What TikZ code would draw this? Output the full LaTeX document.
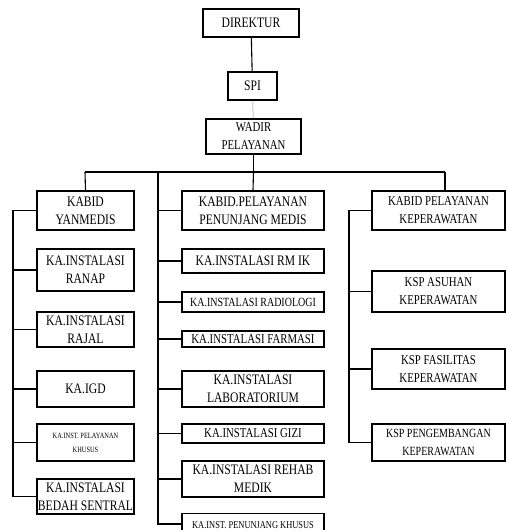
\documentclass[tikz,border=0pt]{standalone}
\usepackage{fontspec}
\setmainfont{Liberation Serif}[FakeStretch=0.8]
\usetikzlibrary{calc}
\begin{document}
\begin{tikzpicture}[x=1pt,y=-1pt,
  box/.style={draw, line width=1.1pt, inner sep=0pt, align=center, fill=white,
    font=\fontsize{14.5}{18}\selectfont},
  fs/.style={font=\fontsize{#1}{18}\selectfont},
  ln/.style={line width=1.1pt},
]
\useasboundingbox (0,0) rectangle (506,530);
\clip (0,0) rectangle (506,530);
% top
\node[box, minimum width=96, minimum height=28] (dir) at (251,23) {DIREKTUR};
\node[box, minimum width=49, minimum height=28] (spi) at (252.5,86) {SPI};
\node[box, fs=13.5, minimum width=95, minimum height=35] (wadir) at (253.5,136.5) {WADIR\\PELAYANAN};
% heads
\node[box, minimum width=97, minimum height=39] (kyan) at (85.5,210.5) {KABID\\YANMEDIS};
\node[box, minimum width=142, minimum height=39] (kpen) at (253,210.5) {KABID.PELAYANAN\\PENUNJANG MEDIS};
\node[box, fs=13.5, minimum width=133, minimum height=39] (kkep) at (438.5,210.5) {KABID PELAYANAN\\KEPERAWATAN};
% left column
\node[box, minimum width=97, minimum height=42] (ranap) at (85.5,270) {KA.INSTALASI\\RANAP};
\node[box, minimum width=97, minimum height=35] (rajal) at (85.5,329.5) {KA.INSTALASI\\RAJAL};
\node[box, minimum width=97, minimum height=36] (igd) at (85.5,389) {KA.IGD};
\node[box, font=\fontsize{8}{14}\selectfont, minimum width=97, minimum height=37] (khusus) at (85.5,442.5) {KA.INST. PELAYANAN\\KHUSUS};
\node[box, minimum width=97, minimum height=35] (bedah) at (85.5,496.5) {KA.INSTALASI\\BEDAH SENTRAL};
% middle column
\node[box, minimum width=142, minimum height=24] (rmik) at (253,261) {KA.INSTALASI RM IK};
\node[box, fs=12.5, minimum width=142, minimum height=20] (radio) at (253,302) {KA.INSTALASI RADIOLOGI};
\node[box, fs=13.5, minimum width=142, minimum height=16] (farm) at (253,339) {KA.INSTALASI FARMASI};
\node[box, minimum width=142, minimum height=36] (lab) at (253,389) {KA.INSTALASI\\LABORATORIUM};
\node[box, fs=13.5, minimum width=142, minimum height=19] (gizi) at (253,433.5) {KA.INSTALASI GIZI};
\node[box, minimum width=142, minimum height=36] (rehab) at (253,479) {KA.INSTALASI REHAB\\MEDIK};
\node[box, fs=10.5, minimum width=142, minimum height=23, anchor=north] (penj) at (253,513) {\raisebox{-2pt}{KA.INST. PENUNJANG KHUSUS}};
% right column
\node[box, fs=13.5, minimum width=133, minimum height=41] (asuh) at (438.5,291.5) {KSP ASUHAN\\KEPERAWATAN};
\node[box, fs=13.5, minimum width=133, minimum height=40] (fasi) at (438.5,369) {KSP FASILITAS\\KEPERAWATAN};
\node[box, fs=12.5, minimum width=133, minimum height=37] (peng) at (438.5,442.5) {KSP PENGEMBANGAN\\KEPERAWATAN};
% bus coordinates
\coordinate (busL) at (85,172);
\coordinate (busR) at (445,172);
\coordinate (busM) at (158,172);
\coordinate (lb) at (13,0);
\coordinate (rb) at (349,0);
% connectors
\draw[ln] (dir) -- (spi);
\draw[line width=0.5pt, black!45] (spi) -- (wadir);
\draw[ln] (wadir.south) -- (wadir.south |- busL);
\draw[ln] (busL) -- (busR);
\draw[ln] (busL) -- (kyan.north);
\draw[ln] (busR) -- (busR |- kkep.north);
\draw[ln] (wadir.south |- busL) -- (kpen.north);
% left bus
\draw[ln] (kyan.west) -| (bedah.west -| lb) -- (bedah.west);
\foreach \n in {ranap,rajal,igd,khusus}
  \draw[ln] (\n.west) -- (\n.west -| lb);
% middle bus
\coordinate (penjc) at ($(penj.north west)+(0,11)$);
\draw[ln] (busM) -- (busM |- penjc) -- (penjc);
\foreach \n in {kpen,rmik,radio,farm,lab,gizi,rehab}
  \draw[ln] (\n.west) -- (\n.west -| busM);
% right bus
\draw[ln] (kkep.west) -| (peng.west -| rb) -- (peng.west);
\foreach \n in {asuh,fasi}
  \draw[ln] (\n.west) -- (\n.west -| rb);
\end{tikzpicture}
\end{document}
